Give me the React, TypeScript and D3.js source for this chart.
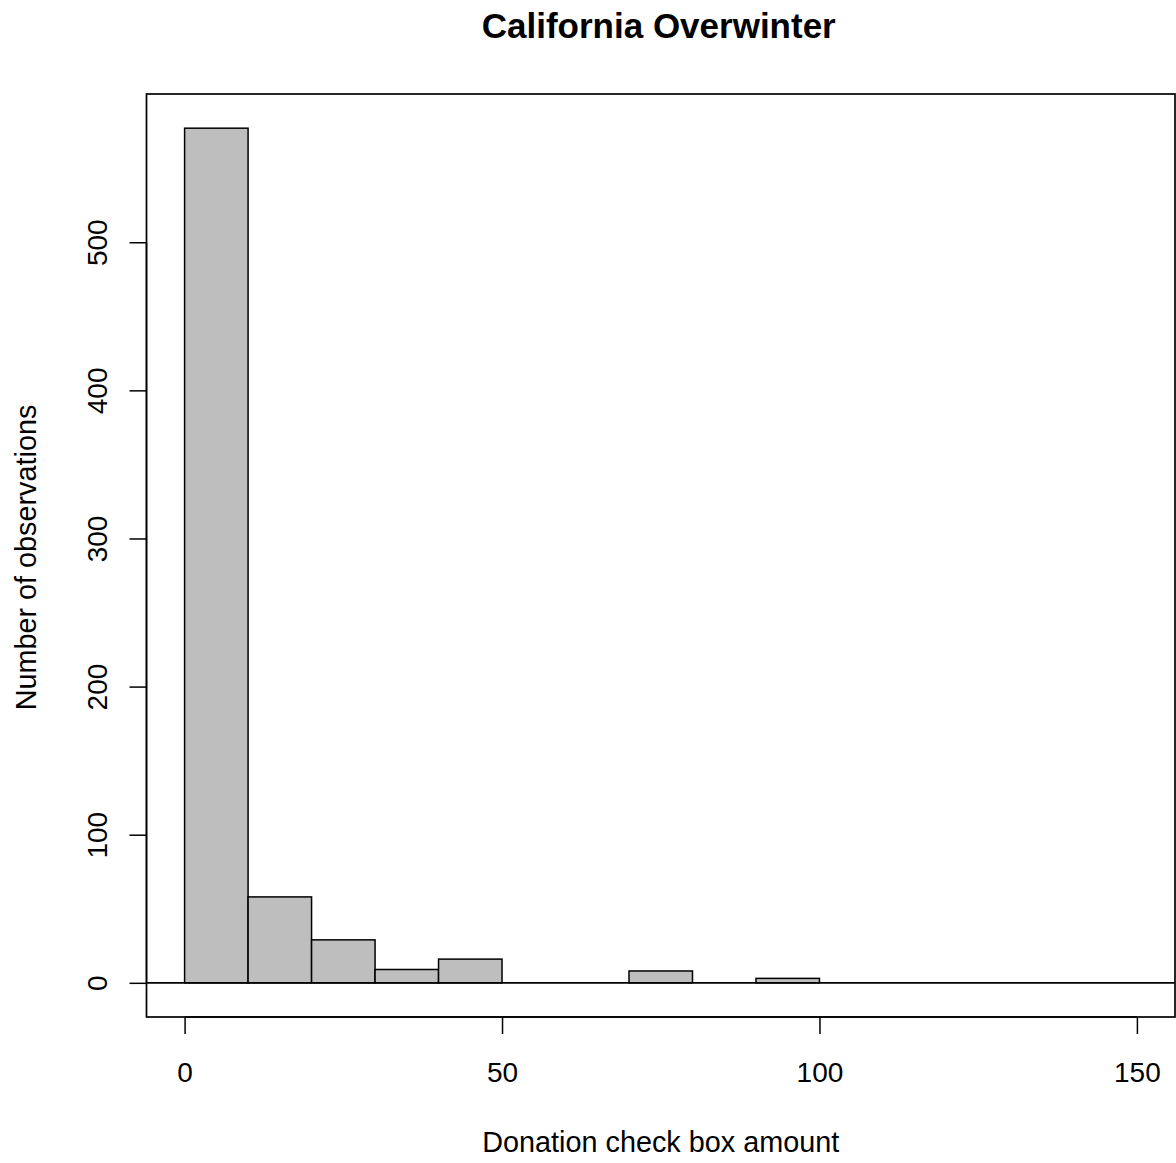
import { useEffect, useRef } from 'react'
import * as d3 from 'd3'

const W = 1176, H = 1163
// plot region (R-style box)
const BOX = { left: 146.5, right: 1175, top: 94, bottom: 1017 }

const BREAKS = [0, 10, 20, 30, 40, 50, 60, 70, 80, 90, 100, 110, 120, 130, 140, 150]
const COUNTS = [577, 58, 29, 9, 16, 0, 0, 8, 0, 3, 0, 0, 0, 0, 0]
const X_TICKS = [0, 50, 100, 150]
const Y_TICKS = [0, 100, 200, 300, 400, 500]

const TITLE = 'California Overwinter'
const X_LABEL = 'Donation check box amount'
const Y_LABEL = 'Number of observations'

const FONT = 'Liberation Sans, Arial, Helvetica, sans-serif'

export default function App() {
  const svgRef = useRef<SVGSVGElement>(null)

  useEffect(() => {
    const svg = d3.select(svgRef.current!)
    svg.selectAll('*').remove()

    // R pads the range by 4% on both sides
    const xMin = 0, xMax = 150
    const xPad = (xMax - xMin) * 0.04
    const x = d3.scaleLinear().domain([xMin - xPad, xMax + xPad]).range([BOX.left, BOX.right])

    const yMax = d3.max(COUNTS)!
    const yPad = yMax * 0.04
    const y = d3.scaleLinear().domain([-yPad, yMax + yPad]).range([BOX.bottom, BOX.top])

    // ── bars ──────────────────────────────────────────────────────────────
    const bins = COUNTS.map((c, i) => ({ x0: BREAKS[i], x1: BREAKS[i + 1], c }))
    svg.append('g').selectAll('rect')
      .data(bins)
      .join('rect')
      .attr('x', d => x(d.x0))
      .attr('width', d => x(d.x1) - x(d.x0))
      .attr('y', d => y(d.c))
      .attr('height', d => y(0) - y(d.c))
      .attr('fill', '#bebebe')
      .attr('stroke', '#000').attr('stroke-width', 1.5)

    // ── abline(h = 0) ─────────────────────────────────────────────────────
    svg.append('line')
      .attr('x1', BOX.left).attr('x2', BOX.right)
      .attr('y1', y(0)).attr('y2', y(0))
      .attr('stroke', '#000').attr('stroke-width', 1.7)

    // ── box ───────────────────────────────────────────────────────────────
    svg.append('rect')
      .attr('x', BOX.left).attr('y', BOX.top)
      .attr('width', BOX.right - BOX.left).attr('height', BOX.bottom - BOX.top)
      .attr('fill', 'none').attr('stroke', '#000').attr('stroke-width', 1.7)

    // ── x axis ────────────────────────────────────────────────────────────
    const gx = svg.append('g')
      .attr('transform', `translate(0,${BOX.bottom})`)
      .call(d3.axisBottom(x).tickValues(X_TICKS).tickSize(17).tickPadding(0).tickFormat(d3.format('d')))
    gx.select('.domain')
      .attr('d', `M${x(X_TICKS[0])},0H${x(X_TICKS[X_TICKS.length - 1])}`)
      .attr('stroke-width', 1.5)
    gx.selectAll('.tick line').attr('stroke-width', 1.5)
    gx.selectAll('.tick text')
      .attr('font-family', FONT).attr('font-size', 28).attr('fill', '#000')
      .attr('y', 64.5).attr('dy', 0)

    // ── y axis ────────────────────────────────────────────────────────────
    const gy = svg.append('g')
      .attr('transform', `translate(${BOX.left},0)`)
      .call(d3.axisLeft(y).tickValues(Y_TICKS).tickSize(17).tickFormat(d3.format('d')))
    gy.select('.domain')
      .attr('d', `M0,${y(Y_TICKS[0])}V${y(Y_TICKS[Y_TICKS.length - 1])}`)
      .attr('stroke-width', 1.5)
    gy.selectAll('.tick line').attr('stroke-width', 1.5)
    gy.selectAll<SVGTextElement, number>('.tick text')
      .attr('font-family', FONT).attr('font-size', 28).attr('fill', '#000')
      .attr('x', null).attr('dy', 0).attr('y', 0)
      .attr('text-anchor', 'middle')
      .attr('transform', 'translate(-39.5,0) rotate(-90)')

    // ── titles ────────────────────────────────────────────────────────────
    svg.append('text')
      .attr('x', (BOX.left + BOX.right) / 2 - 2).attr('y', 38)
      .attr('text-anchor', 'middle')
      .attr('font-family', FONT).attr('font-size', 35).attr('font-weight', 'bold')
      .text(TITLE)

    svg.append('text')
      .attr('x', (BOX.left + BOX.right) / 2).attr('y', 1152)
      .attr('text-anchor', 'middle')
      .attr('font-family', FONT).attr('font-size', 28.8)
      .text(X_LABEL)

    svg.append('text')
      .attr('transform', `translate(36,${(BOX.top + BOX.bottom) / 2 + 2}) rotate(-90)`)
      .attr('text-anchor', 'middle')
      .attr('font-family', FONT).attr('font-size', 28.8)
      .text(Y_LABEL)
  }, [])

  return (
    <svg
      ref={svgRef}
      width={W}
      height={H}
      viewBox={`0 0 ${W} ${H}`}
      style={{ position: 'absolute', left: 0, top: 0, background: '#fff' }}
    />
  )
}
